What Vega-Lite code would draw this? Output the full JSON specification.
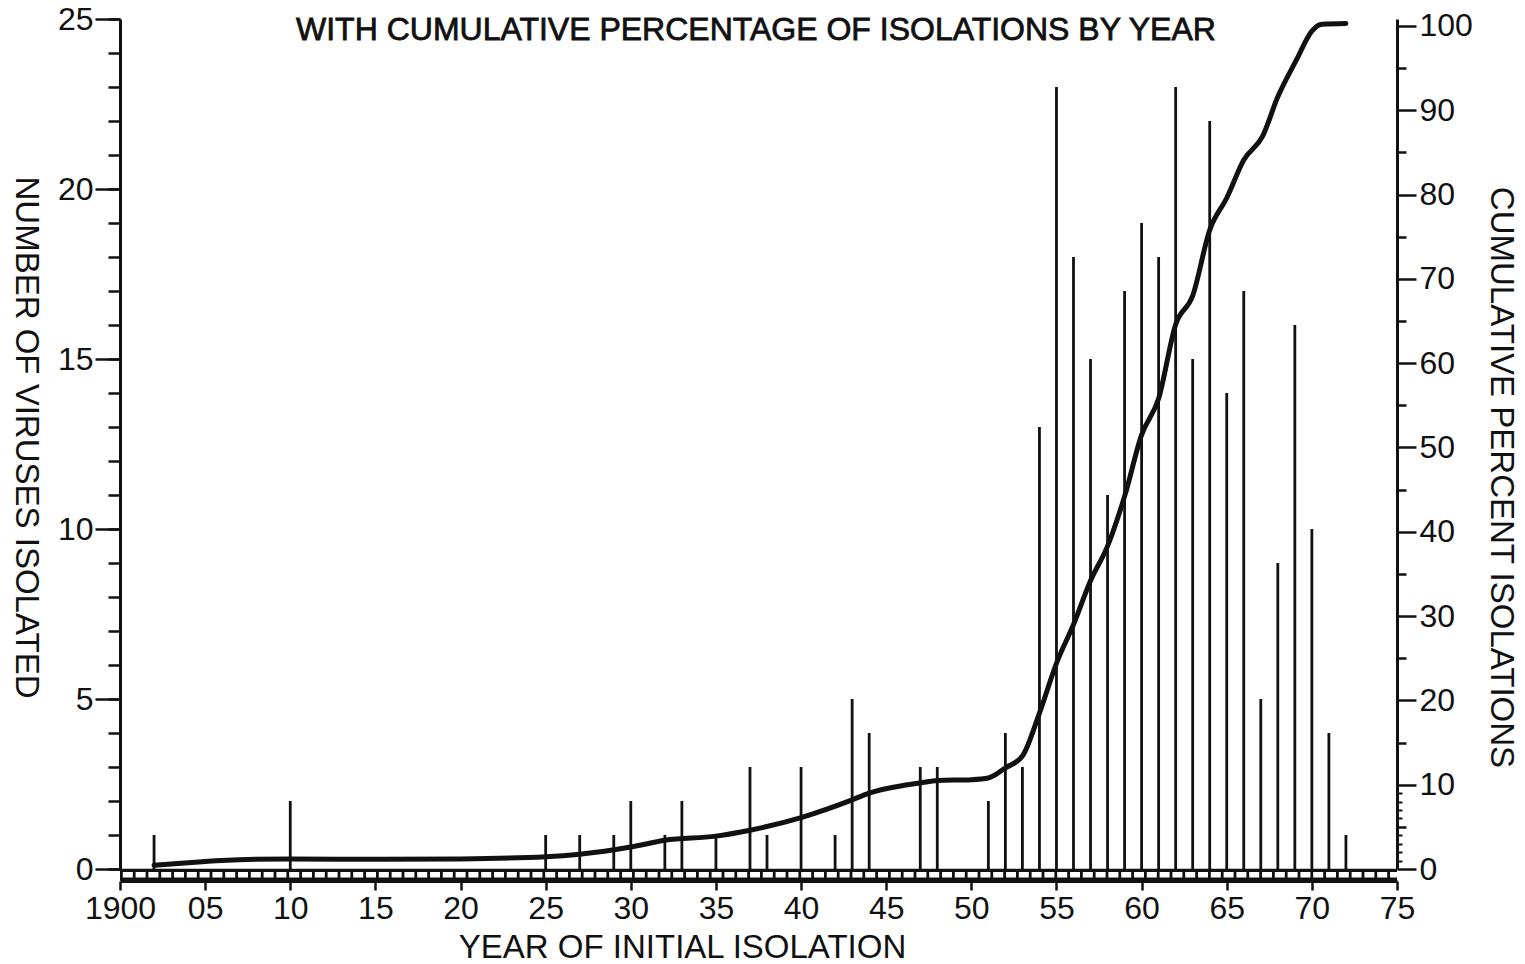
{
  "$schema": "https://vega.github.io/schema/vega-lite/v6.json",
  "width": 1277,
  "height": 850,
  "autosize": {"type": "none"},
  "padding": {"left": 120, "top": 19, "right": 128, "bottom": 95},
  "background": "white",
  "config": {
    "view": {"stroke": null},
    "axis": {
      "grid": false,
      "labelFont": "Liberation Sans",
      "labelFontSize": 32,
      "labelColor": "#111",
      "titleFont": "Liberation Sans",
      "titleFontSize": 33,
      "titleFontWeight": "normal",
      "titleColor": "#111",
      "domainColor": "#111",
      "tickColor": "#111",
      "domainWidth": 3,
      "tickWidth": 2.5
    },
    "axisX": {
      "orient": "bottom",
      "offset": 12,
      "labelExpr": "datum.value === 1900 ? '1900' : ((datum.value - 1900) < 10 ? '0' + (datum.value - 1900) : '' + (datum.value - 1900))",
      "tickSize": 9,
      "labelPadding": 3,
      "labelFlush": false,
      "labelOverlap": false,
      "titleX": 562,
      "titleY": 66,
      "titleAlign": "center",
      "titleBaseline": "middle"
    }
  },
  "resolve": {"scale": {"y": "independent"}, "axis": {"y": "independent"}},
  "layer": [
    {
      "data": {"values": [{}]},
      "mark": {"type": "rule", "color": "#111", "strokeWidth": 12, "strokeCap": "butt"},
      "encoding": {
        "x": {"datum": 1900, "type": "quantitative", "scale": {"domain": [1900, 1975], "nice": false, "zero": false}, "axis": {"title": "YEAR  OF INITIAL ISOLATION", "values": [1900,1905,1910,1915,1920,1925,1930,1935,1940,1945,1950,1955,1960,1965,1970,1975]}},
        "x2": {"datum": 1975},
        "y": {"datum": -0.17, "type": "quantitative", "scale": {"domain": [0, 25], "nice": false, "zero": false},
          "axis": {"orient": "left", "values": [0,1,2,3,4,5,6,7,8,9,10,11,12,13,14,15,16,17,18,19,20,21,22,23,24,25], "tickSize": 12, "labels": false, "domain": false, "title": null}}
      }
    },
    {
      "data": {"values": [{}]},
      "mark": {"type": "rule", "color": "white", "strokeWidth": 5.5, "strokeCap": "butt", "strokeDash": [10, 2.8], "strokeDashOffset": -2.8},
      "encoding": {
        "x": {"datum": 1900, "type": "quantitative", "scale": {"domain": [1900, 1975], "nice": false, "zero": false}, "axis": {"title": "YEAR  OF INITIAL ISOLATION", "values": [1900,1905,1910,1915,1920,1925,1930,1935,1940,1945,1950,1955,1960,1965,1970,1975]}},
        "x2": {"datum": 1975},
        "y": {"datum": -0.17, "type": "quantitative", "scale": {"domain": [0, 25], "nice": false, "zero": false}, "axis": null}
      }
    },
    {
      "data": {"values": [
        {"year": 1902, "n": 1}, {"year": 1910, "n": 2}, {"year": 1925, "n": 1}, {"year": 1927, "n": 1},
        {"year": 1929, "n": 1}, {"year": 1930, "n": 2}, {"year": 1932, "n": 1}, {"year": 1933, "n": 2},
        {"year": 1935, "n": 1}, {"year": 1937, "n": 3}, {"year": 1938, "n": 1}, {"year": 1940, "n": 3},
        {"year": 1942, "n": 1}, {"year": 1943, "n": 5}, {"year": 1944, "n": 4}, {"year": 1947, "n": 3},
        {"year": 1948, "n": 3}, {"year": 1951, "n": 2}, {"year": 1952, "n": 4}, {"year": 1953, "n": 3},
        {"year": 1954, "n": 13}, {"year": 1955, "n": 23}, {"year": 1956, "n": 18}, {"year": 1957, "n": 15},
        {"year": 1958, "n": 11}, {"year": 1959, "n": 17}, {"year": 1960, "n": 19}, {"year": 1961, "n": 18},
        {"year": 1962, "n": 23}, {"year": 1963, "n": 15}, {"year": 1964, "n": 22}, {"year": 1965, "n": 14},
        {"year": 1966, "n": 17}, {"year": 1967, "n": 5}, {"year": 1968, "n": 9}, {"year": 1969, "n": 16},
        {"year": 1970, "n": 10}, {"year": 1971, "n": 4}, {"year": 1972, "n": 1}
      ]},
      "mark": {"type": "rule", "color": "#111", "strokeWidth": 2.8, "strokeCap": "butt"},
      "encoding": {
        "x": {"field": "year", "type": "quantitative", "scale": {"domain": [1900, 1975], "nice": false, "zero": false}, "axis": {"title": "YEAR  OF INITIAL ISOLATION", "values": [1900,1905,1910,1915,1920,1925,1930,1935,1940,1945,1950,1955,1960,1965,1970,1975]}},
        "y": {"field": "n", "type": "quantitative", "scale": {"domain": [0, 25], "nice": false, "zero": false},
          "axis": {"orient": "left", "values": [0, 5, 10, 15, 20, 25], "tickSize": 25, "labelPadding": 2,
            "title": "NUMBER OF VIRUSES ISOLATED", "titleAngle": 90, "titleX": -95, "titleY": 418, "titleAlign": "center", "titleBaseline": "middle"}},
        "y2": {"datum": 0}
      }
    },
    {
      "data": {"values": [
        {"year": 1902, "pct": 0.45}, {"year": 1904, "pct": 0.75}, {"year": 1906, "pct": 1.0}, {"year": 1910, "pct": 1.2},
        {"year": 1915, "pct": 1.15}, {"year": 1920, "pct": 1.2}, {"year": 1925, "pct": 1.45}, {"year": 1927, "pct": 1.75},
        {"year": 1930, "pct": 2.6}, {"year": 1932, "pct": 3.4}, {"year": 1935, "pct": 3.9}, {"year": 1937, "pct": 4.6},
        {"year": 1940, "pct": 6.1}, {"year": 1943, "pct": 8.2}, {"year": 1944, "pct": 9.0}, {"year": 1946, "pct": 9.9},
        {"year": 1947, "pct": 10.2}, {"year": 1948, "pct": 10.5}, {"year": 1950, "pct": 10.6}, {"year": 1951, "pct": 10.8},
        {"year": 1952, "pct": 12.0}, {"year": 1953, "pct": 13.4}, {"year": 1954, "pct": 18.5}, {"year": 1955, "pct": 24.4},
        {"year": 1956, "pct": 29.0}, {"year": 1957, "pct": 34.2}, {"year": 1958, "pct": 38.3}, {"year": 1959, "pct": 44.2},
        {"year": 1960, "pct": 51.5}, {"year": 1961, "pct": 55.8}, {"year": 1962, "pct": 64.6}, {"year": 1963, "pct": 68.0},
        {"year": 1964, "pct": 75.8}, {"year": 1965, "pct": 79.6}, {"year": 1966, "pct": 84.1},
        {"year": 1967.1, "pct": 86.9}, {"year": 1968, "pct": 91.6}, {"year": 1969.1, "pct": 96.0}, {"year": 1970, "pct": 99.4},
        {"year": 1970.6, "pct": 100.2}, {"year": 1972, "pct": 100.3}
      ]},
      "mark": {"type": "line", "color": "#111", "strokeWidth": 5, "interpolate": "monotone", "strokeCap": "round"},
      "encoding": {
        "x": {"field": "year", "type": "quantitative", "scale": {"domain": [1900, 1975], "nice": false, "zero": false}, "axis": {"title": "YEAR  OF INITIAL ISOLATION", "values": [1900,1905,1910,1915,1920,1925,1930,1935,1940,1945,1950,1955,1960,1965,1970,1975]}},
        "y": {"field": "pct", "type": "quantitative", "scale": {"domain": [0, 100.83], "nice": false, "zero": false},
          "axis": {"orient": "right", "values": [0, 10, 20, 30, 40, 50, 60, 70, 80, 90, 100], "tickSize": 19, "labelPadding": 3,
            "title": "CUMULATIVE PERCENT ISOLATIONS", "titleAngle": 90, "titleX": 103, "titleY": 458, "titleAlign": "center", "titleBaseline": "middle"}}
      }
    },
    {
      "data": {"values": [{}]},
      "mark": {"type": "rule", "opacity": 0},
      "encoding": {
        "x": {"datum": 1900, "type": "quantitative", "scale": {"domain": [1900, 1975], "nice": false, "zero": false}, "axis": {"title": "YEAR  OF INITIAL ISOLATION", "values": [1900,1905,1910,1915,1920,1925,1930,1935,1940,1945,1950,1955,1960,1965,1970,1975]}},
        "y": {"datum": 0, "type": "quantitative", "scale": {"domain": [0, 100.83], "nice": false, "zero": false},
          "axis": {"orient": "right", "values": [5, 15, 25, 35, 45, 55, 65, 75, 85, 95], "tickSize": 9, "labels": false, "domain": false, "title": null}}
      }
    },
    {
      "data": {"values": [{}]},
      "mark": {"type": "rule", "opacity": 0},
      "encoding": {
        "x": {"datum": 1900, "type": "quantitative", "scale": {"domain": [1900, 1975], "nice": false, "zero": false}, "axis": {"title": "YEAR  OF INITIAL ISOLATION", "values": [1900,1905,1910,1915,1920,1925,1930,1935,1940,1945,1950,1955,1960,1965,1970,1975]}},
        "y": {"datum": 0, "type": "quantitative", "scale": {"domain": [0, 100.83], "nice": false, "zero": false},
          "axis": {"orient": "right", "values": [1, 2, 3, 4, 6, 7, 8, 9], "tickSize": 5, "tickWidth": 2, "labels": false, "domain": false, "title": null}}
      }
    },
    {
      "data": {"values": [{"t": "WITH  CUMULATIVE PERCENTAGE OF ISOLATIONS BY YEAR"}]},
      "mark": {"type": "text", "font": "Liberation Sans", "fontSize": 32, "color": "#111", "stroke": "#111", "strokeWidth": 0.8, "align": "center", "baseline": "alphabetic"},
      "encoding": {
        "text": {"field": "t"},
        "x": {"datum": 1937.35, "type": "quantitative", "scale": {"domain": [1900, 1975], "nice": false, "zero": false}, "axis": {"title": "YEAR  OF INITIAL ISOLATION", "values": [1900,1905,1910,1915,1920,1925,1930,1935,1940,1945,1950,1955,1960,1965,1970,1975]}},
        "y": {"datum": 24.38, "type": "quantitative", "scale": {"domain": [0, 25], "nice": false, "zero": false}, "axis": null}
      }
    }
  ]
}
